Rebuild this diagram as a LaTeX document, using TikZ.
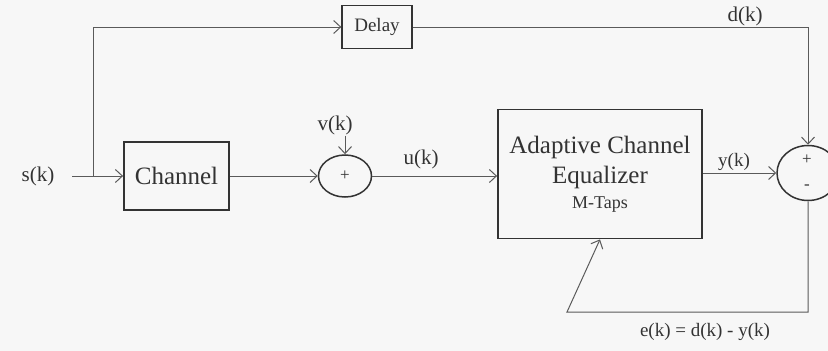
\documentclass[tikz,border=0pt]{standalone}
\usepackage{fontspec}
\setmainfont{Liberation Serif}
\usetikzlibrary{arrows.meta,shapes.geometric}
\definecolor{ink}{HTML}{333333}
\definecolor{wire}{HTML}{5A5A5A}
\definecolor{paper}{HTML}{F7F7F7}

\begin{document}
\begin{tikzpicture}[x=1pt,y=-1pt,
  big/.style={font=\fontsize{25}{30}\selectfont},
  mid/.style={font=\fontsize{21}{24}\selectfont},
  sml/.style={font=\fontsize{19}{22}\selectfont},
  blk/.style={draw=ink,line width=1.8pt,text=ink,inner sep=0pt},
  sumnode/.style={ellipse,draw=ink,line width=1.5pt,inner sep=0pt,text=ink},
  sig/.style={draw=wire,line width=1pt,-{Straight Barb[length=7pt,width=13pt]}},
  lbl/.style={text=ink,inner sep=1pt}]
  \fill[paper] (0,0) rectangle (828,351);
  \useasboundingbox (0,0) rectangle (828,351);

  % blocks
  \node[blk,big,minimum width=105pt,minimum height=68pt] (chan) at (176.5,176) {Channel};
  \node[blk,sml,line width=1.3pt,minimum width=70pt,minimum height=43pt] (delay) at (377,27) {Delay};
  \node[blk,big,minimum width=204pt,minimum height=129pt,align=center] (eq) at (600,174)
    {Adaptive Channel\\Equalizer\\[-5pt]{\fontsize{18}{20}\selectfont M-Taps}};
  \node[sumnode,minimum width=53pt,minimum height=42pt,font=\fontsize{17}{18}\selectfont] (sum1) at (345,176) {+};
  \node[sumnode,minimum width=62pt,minimum height=55pt] (sum2) at (808,173) {};
  \node[lbl,font=\fontsize{17}{18}\selectfont] (plus) at (807,160) {+};
  \node[lbl,font=\fontsize{17}{18}\selectfont] (minus) at (807,187) {-};

  % labels
  \node[lbl,mid] (sk) at (38,176) {s(k)};
  \node[lbl,mid] (vk) at (335,125) {v(k)};
  \node[lbl,mid] (uk) at (421,159) {u(k)};
  \node[lbl,sml] (yk) at (734,162) {y(k)};
  \node[lbl,mid] (dk) at (745,16) {d(k)};
  \node[lbl,sml] (ek) at (705,332) {e(k) = d(k) - y(k)};

  \coordinate (in) at (72,176);
  \coordinate (br) at (93,176);
  \coordinate (fb) at (567,312);

  % connectors
  \draw[sig] (in) -- (chan.west);
  \draw[sig] (br) |- (delay.west);
  \draw[sig] (chan.east) -- (sum1.west);
  \draw[sig] (vk.south -| sum1.north) -- (sum1.north);
  \draw[sig] (sum1.east) -- (eq.west |- sum1.east);
  \draw[sig] (eq.east |- sum2.west) -- (sum2.west);
  \draw[sig] (delay.east) -| (sum2.north);
  \draw[sig] (sum2.south) |- (fb) -- (eq.south);
\end{tikzpicture}
\end{document}
